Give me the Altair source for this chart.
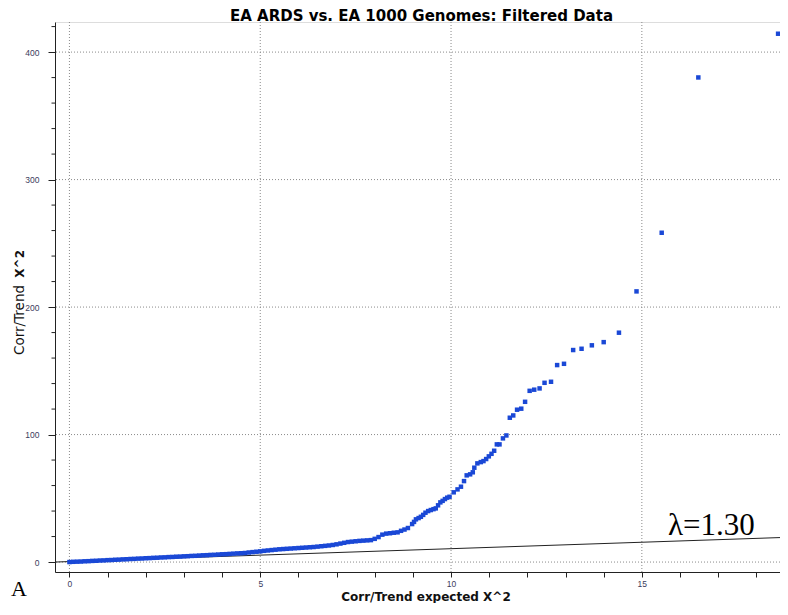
import altair as alt
import pandas as pd

qq_expected = [
    0.0, 0.1, 0.2, 0.3, 0.4, 0.5, 0.6, 0.7, 0.8, 0.9,
    1.0, 1.1, 1.2, 1.3, 1.4, 1.5, 1.6, 1.7, 1.8, 1.9,
    2.0, 2.1, 2.2, 2.3, 2.4, 2.5, 2.6, 2.7, 2.8, 2.9,
    3.0, 3.1, 3.2, 3.3, 3.4, 3.5, 3.6, 3.7, 3.8, 3.9,
    4.0, 4.1, 4.2, 4.3, 4.4, 4.5, 4.6, 4.7, 4.8, 4.9,
    5.0, 5.1, 5.2, 5.3, 5.4, 5.5, 5.6, 5.7, 5.8, 5.9,
    6.0, 6.1, 6.2, 6.3, 6.4, 6.5, 6.6, 6.7, 6.8, 6.9,
    7.0, 7.1, 7.2, 7.3, 7.4, 7.5, 7.6, 7.7, 7.8, 7.9,
    8.0, 8.1, 8.2, 8.3, 8.4, 8.5, 8.6,
    8.69, 8.78, 8.87, 8.98, 9.03, 9.08, 9.15, 9.21, 9.27, 9.33,
    9.40, 9.47, 9.54, 9.60, 9.66, 9.72, 9.78, 9.84, 9.90, 9.96,
    10.07, 10.17, 10.26, 10.34, 10.41, 10.50, 10.57, 10.61, 10.69, 10.78,
    10.85, 10.92, 10.99, 11.06, 11.13, 11.20, 11.27, 11.36, 11.45, 11.54,
    11.63, 11.73, 11.84, 11.94, 12.06, 12.18, 12.32, 12.45, 12.62, 12.78,
    12.96, 13.20, 13.42, 13.69, 14.00, 14.40, 14.86, 15.52, 16.48, 18.57,
]
qq_observed = [
    0.0, 0.2, 0.3, 0.4, 0.6, 0.7, 0.9, 1.0, 1.2, 1.3,
    1.5, 1.6, 1.8, 1.9, 2.1, 2.2, 2.4, 2.5, 2.7, 2.8,
    3.0, 3.1, 3.3, 3.4, 3.6, 3.7, 3.9, 4.0, 4.2, 4.3,
    4.5, 4.6, 4.8, 4.9, 5.1, 5.3, 5.4, 5.6, 5.7, 5.9,
    6.1, 6.2, 6.4, 6.6, 6.8, 6.9, 7.1, 7.5, 7.8, 8.1,
    8.4, 8.8, 9.1, 9.4, 9.7, 10.0, 10.2, 10.4, 10.6, 10.8,
    11.0, 11.2, 11.4, 11.6, 11.8, 12.1, 12.4, 12.7, 13.0, 13.4,
    13.9, 14.5, 15.1, 15.7, 16.0, 16.3, 16.6, 16.8, 17.0, 17.2,
    18.2, 19.6, 21.5, 22.3, 22.6, 23.0, 23.3,
    24.5, 25.5, 26.7, 29.8, 31.5, 33.5, 34.5, 35.5, 37.0, 38.7,
    40.0, 40.8, 41.5, 42.1, 44.5, 46.8, 48.0, 49.4, 50.5, 51.2,
    54.7, 57.0, 59.1, 63.5, 68.0, 68.8, 70.4, 74.0, 77.4, 78.4,
    79.2, 80.8, 82.9, 84.9, 87.3, 92.3, 92.3, 97.0, 99.3, 113.2,
    115.0, 119.5, 120.3, 125.7, 134.3, 135.2, 136.2, 140.6, 141.4, 154.5,
    155.5, 166.3, 167.3, 170.0, 172.5, 179.9, 212.3, 258.3, 380.1, 414.4,
]

# Reference line (lambda) endpoints
lambda_x = [-0.378, 18.62]
lambda_y = [0.0, 19.2]

x_tick_values = list(range(0, 19))
x_grid_values = [0, 5, 10, 15]
y_major_values = [0, 100, 200, 300, 400]
y_minor_values = [v for v in range(20, 421, 20) if v % 100 != 0]

title_text = "EA ARDS vs. EA 1000 Genomes: Filtered Data"
x_title = "Corr/Trend  expected X^2"
y_title_a = "Corr/Trend"
y_title_b = "X^2"
lambda_label = "\u03bb=1.30"
panel_label = "A"

X_DOMAIN = [-0.378, 18.62]
Y_DOMAIN = [-7.8, 423.6]

W, H = 725, 550

pts = pd.DataFrame({"x": qq_expected, "y": qq_observed})
line_df = pd.DataFrame({"x": lambda_x, "y": lambda_y})

xs = alt.Scale(domain=X_DOMAIN, nice=False, zero=False)
ys = alt.Scale(domain=Y_DOMAIN, nice=False, zero=False)

LABEL_FONT = "Liberation Sans"
LABEL_COLOR = "#3b3b5c"
GRID_COLOR = "#8a8a8a"
AXIS_COLOR = "#222222"

x_axis = alt.Axis(
    values=x_tick_values,
    labelExpr="datum.value % 5 === 0 ? datum.label : ''",
    labelOverlap=False,
    grid=False,
    tickSize=5,
    tickColor=AXIS_COLOR,
    domainColor=AXIS_COLOR,
    labelFont=LABEL_FONT,
    labelFontSize=8.5,
    labelColor=LABEL_COLOR,
    labelPadding=2,
    title=x_title,
    titleFont="DejaVu Sans",
    titleFontSize=12,
    titleFontWeight="bold",
    titleColor="#111111",
    titleX=W / 2 + 8,
    titleY=28,
    titleBaseline="alphabetic",
)

y_axis = alt.Axis(
    values=y_major_values,
    labelOverlap=False,
    grid=False,
    tickSize=7,
    tickColor=AXIS_COLOR,
    domainColor=AXIS_COLOR,
    labelFont=LABEL_FONT,
    labelFontSize=8.5,
    labelColor=LABEL_COLOR,
    labelPadding=9,
    title=None,
)

xgrid = alt.Chart(pd.DataFrame({"v": x_grid_values})).mark_rule(
    color=GRID_COLOR, strokeDash=[1, 2], strokeWidth=1
).encode(x=alt.X("v:Q", scale=xs, axis=x_axis))

ygrid = alt.Chart(pd.DataFrame({"v": y_major_values})).mark_rule(
    color=GRID_COLOR, strokeDash=[1, 2], strokeWidth=1
).encode(y=alt.Y("v:Q", scale=ys, axis=y_axis))

yminor = alt.Chart(pd.DataFrame({"v": y_minor_values})).mark_rule(
    color=AXIS_COLOR, strokeWidth=1
).encode(y=alt.Y("v:Q", scale=ys), x=alt.value(-3.5), x2=alt.value(0))

lam = alt.Chart(line_df).mark_line(color="#222222", strokeWidth=1).encode(
    x=alt.X("x:Q", scale=xs),
    y=alt.Y("y:Q", scale=ys),
)

points = alt.Chart(pts).mark_square(size=20, color="#1a48d6", opacity=1).encode(
    x=alt.X("x:Q", scale=xs),
    y=alt.Y("y:Q", scale=ys),
)

title_mark = alt.Chart(pd.DataFrame({"t": [title_text]})).mark_text(
    font="DejaVu Sans", fontSize=15, fontWeight="bold", align="center",
    baseline="alphabetic", color="#000000"
).encode(x=alt.value(W / 2 + 4), y=alt.value(-1.5), text="t:N")

lam_text = alt.Chart(pd.DataFrame({"t": [lambda_label]})).mark_text(
    font="Liberation Serif", fontSize=31, align="left", baseline="alphabetic", color="#000000"
).encode(x=alt.value(613), y=alt.value(513), text="t:N")

ytitle_a = alt.Chart(pd.DataFrame({"t": [y_title_a]})).mark_text(
    font="DejaVu Sans", fontSize=13.5, angle=270, align="left", baseline="middle", color="#111111"
).encode(x=alt.value(-35), y=alt.value(333), text="t:N")

ytitle_b = alt.Chart(pd.DataFrame({"t": [y_title_b]})).mark_text(
    font="DejaVu Sans", fontSize=12, fontWeight="bold", angle=270, align="right", baseline="middle", color="#111111"
).encode(x=alt.value(-35), y=alt.value(228), text="t:N")

panel = alt.Chart(pd.DataFrame({"t": [panel_label]})).mark_text(
    font="Liberation Serif", fontSize=22, align="left", baseline="alphabetic", color="#000000"
).encode(x=alt.value(-44), y=alt.value(574), text="t:N")

chart = alt.layer(
    xgrid, ygrid, yminor, lam, points, title_mark, lam_text, ytitle_a, ytitle_b, panel
).properties(
    width=W,
    height=H,
    autosize=alt.AutoSizeParams(type="none"),
    padding={"left": 47, "top": 14, "right": 0, "bottom": 31},
).configure_view(stroke=None).configure(background="#ffffff")

chart.save("out.html", embed_options={"renderer": "svg", "actions": False})
